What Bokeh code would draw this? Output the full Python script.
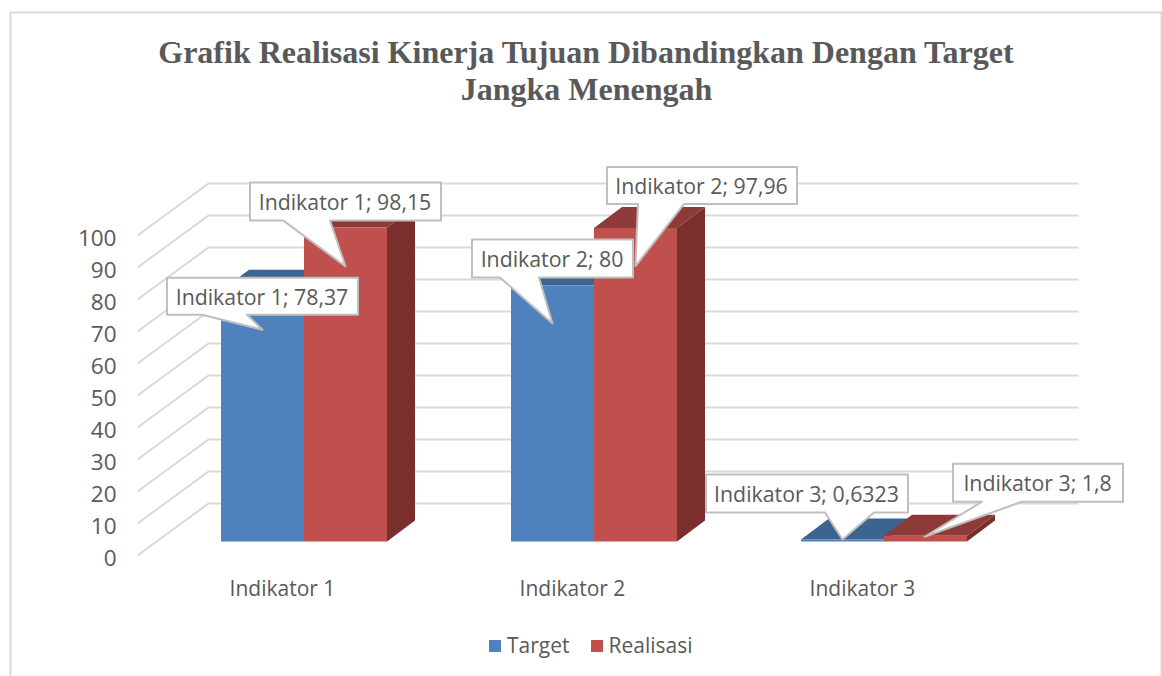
from bokeh.plotting import figure
from bokeh.models import FixedTicker, Legend, LegendItem, LinearAxis, Range1d
from bokeh.core.properties import value
from bokeh.embed import file_html
from bokeh.resources import INLINE

# ---- data ----
categories = ["Indikator 1", "Indikator 2", "Indikator 3"]
target = [78.37, 80, 0.6323]
realisasi = [98.15, 97.96, 1.8]
y_ticks = [0, 10, 20, 30, 40, 50, 60, 70, 80, 90, 100]
title_lines = ["Grafik Realisasi Kinerja Tujuan Dibandingkan Dengan Target", "Jangka Menengah"]
series_names = ["Target", "Realisasi"]

# ---- layout (page pixels -> data units) ----
W, H = 1162, 676
OX, OY = 0, 0
CAT_PX = 290.0   # pixels per category
VAL_PX = 3.2     # pixels per value unit
CAT0_PX = 282.0  # page x of category 0
VAL0_PX = 555.0  # page y of value 0 on the front plane


def dx(px):
    return (px - CAT0_PX) / CAT_PX


def dy(py):
    return (VAL0_PX - py) / VAL_PX


def pxl(x):
    return CAT0_PX + x * CAT_PX


def pyl(y):
    return VAL0_PX - y * VAL_PX


WALL_X, WALL_Y = 71 / CAT_PX, 52 / VAL_PX
BAR_BASE = 14 / VAL_PX
BAR_OFF = 21.5 / CAT_PX
BAR_W = 83 / CAT_PX
DEPTH_X, DEPTH_Y = 28 / CAT_PX, 21 / VAL_PX

GREY = "#D9D9D9"
TXT = "#595959"
SANS = "Open Sans"
SERIF = "Liberation Serif"
COL = {
    "Target": ("#4F81BD", "#3C6491", "#2F4F75"),
    "Realisasi": ("#C0504D", "#8E3A38", "#7A2F2D"),
}

p = figure(width=W, height=H, output_backend="svg", toolbar_location=None,
           x_range=Range1d(dx(OX), dx(OX + W)), y_range=Range1d(dy(OY + H), dy(OY)),
           y_axis_location=None,
           min_border=0, min_border_left=0, min_border_right=0, min_border_top=0, min_border_bottom=0)
p.outline_line_color = None
p.grid.visible = False

# value axis: its own range nudges the labels onto the ticks' optical centre
LABEL_NUDGE = 2 / VAL_PX
p.extra_y_ranges = {"labels": Range1d(dy(OY + H) + LABEL_NUDGE, dy(OY) + LABEL_NUDGE)}
y_axis = LinearAxis(y_range_name="labels", fixed_location=dx(126), ticker=FixedTicker(ticks=y_ticks),
                    axis_line_color=None, major_tick_line_color=None, minor_tick_line_color=None,
                    major_label_standoff=4, major_label_text_font=SANS,
                    major_label_text_font_size="22.5px", major_label_text_color=TXT)
p.add_layout(y_axis, "left")

p.xaxis.fixed_location = dy(565)
p.xaxis.ticker = FixedTicker(ticks=list(range(len(categories))))
p.xaxis.major_label_overrides = {i: c for i, c in enumerate(categories)}
p.xaxis.axis_line_color = None
p.xaxis.major_tick_line_color = None
p.xaxis.minor_tick_line_color = None
p.xaxis.major_label_standoff = 2
p.xaxis.major_label_text_font = SANS
p.xaxis.major_label_text_font_size = "21px"
p.xaxis.major_label_text_color = TXT

# chart border
p.multi_line(xs=[[dx(10), dx(10), dx(1161), dx(1161)]],
             ys=[[dy(676), dy(12), dy(12), dy(676)]], line_color=GREY, line_width=2)

# back wall grid + side wall diagonals
x_front = dx(137)
x_back_l = x_front + WALL_X
x_back_r = dx(1078)
p.multi_line(xs=[[x_front, x_back_l, x_back_r] for _ in y_ticks],
             ys=[[t, t + WALL_Y, t + WALL_Y] for t in y_ticks],
             line_color=GREY, line_width=2)

# bars
front_renderers = {}
for s, (name, vals) in enumerate(zip(series_names, [target, realisasi])):
    front, topc, sidec = COL[name]
    lefts = [i + BAR_OFF + (s - 1) * BAR_W for i in range(len(vals))]
    rights = [l + BAR_W for l in lefts]
    bottoms = [BAR_BASE for _ in vals]
    tops = [BAR_BASE + v for v in vals]
    p.patches(xs=[[r, r + DEPTH_X, r + DEPTH_X, r] for r in rights],
              ys=[[b, b + DEPTH_Y, t + DEPTH_Y, t] for b, t in zip(bottoms, tops)],
              fill_color=sidec, line_color=None)
    p.patches(xs=[[l, l + DEPTH_X, r + DEPTH_X, r] for l, r in zip(lefts, rights)],
              ys=[[t, t + DEPTH_Y, t + DEPTH_Y, t] for t in tops],
              fill_color=topc, line_color=None)
    front_renderers[name] = p.quad(left=lefts, right=rights, bottom=bottoms, top=tops,
                                   fill_color=front, line_color=None)

# call-outs: offsets in pixels from the top-centre of the bar they point at
# series, category, box l, t, r, b, tail base a, b, tip x, tip y
callouts = [
    (0, 0, -95.5, -13, 95.5, 24, -60.5, -15.5, 0, 39),
    (1, 0, -95.5, -45, 95.5, -7, -62.5, -15.5, 0, 39),
    (0, 1, -80.5, -46, 80.5, -8, -52.5, -13.5, 0, 38),
    (1, 1, -28.5, -61, 161.5, -24, 2.5, 48.5, 0, 38),
    (0, 2, -136.5, -65, 65.5, -27, -17.5, 31.5, 0, 0),
    (1, 2, 27.5, -72, 197.5, -34, 56.5, 96.5, -1, 1),
]
all_vals = [target, realisasi]
cx, cy, tx, ty, lbl = [], [], [], [], []
for s, c, l, t, r, b, a1, a2, tipx, tipy in callouts:
    v = all_vals[s][c]
    ax = pxl(c + BAR_OFF + (s - 0.5) * BAR_W)
    ay = pyl(BAR_BASE + v)
    poly = [(l, t), (r, t), (r, b), (a2, b), (tipx, tipy), (a1, b), (l, b)]
    cx.append([dx(ax + x) for x, _ in poly])
    cy.append([dy(ay + y) for _, y in poly])
    tx.append(dx(ax + (l + r) / 2 - 0.5))
    ty.append(dy(ay + (t + b) / 2))
    lbl.append(f"{categories[c]}; {str(v).replace('.', ',')}")
p.patches(xs=cx, ys=cy, fill_color="white", line_color="#BFBFBF", line_width=2, line_join="round")
p.text(x=tx, y=ty, text=lbl, text_font=value(SANS), text_font_size="21.3px", text_color=TXT,
       text_align="center", text_baseline="middle")

# title
p.text(x=[dx(586), dx(586)], y=[dy(51.5), dy(88.5)], text=title_lines, text_font=value(SERIF),
       text_font_style="bold", text_font_size="32px", text_color=TXT,
       text_align="center", text_baseline="middle")

# legend
legend = Legend(items=[LegendItem(label=n, renderers=[front_renderers[n]]) for n in series_names],
                orientation="horizontal", location=(487, 17), glyph_width=15, glyph_height=15,
                label_text_font=SANS, label_text_font_size="21px", label_text_color=TXT,
                label_standoff=5, spacing=19, padding=0, margin=0,
                border_line_color=None, background_fill_alpha=0)
p.add_layout(legend)

open("out.html", "w").write(file_html(p, INLINE))
